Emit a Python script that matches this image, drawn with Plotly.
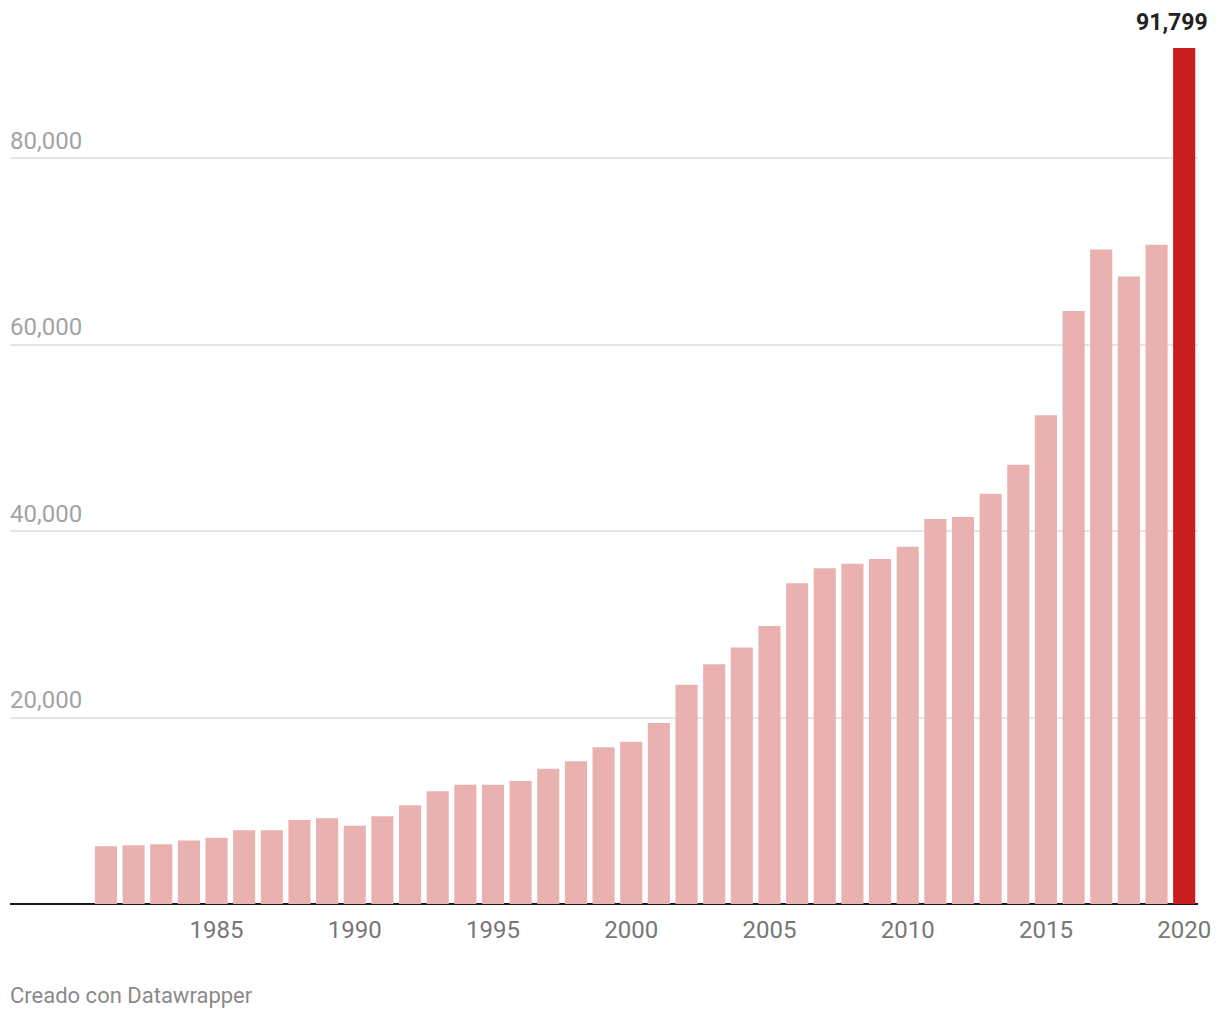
import plotly.graph_objects as go

years = list(range(1981, 2021))
values = [6200, 6300, 6400, 6800, 7100, 7900, 7900, 9000, 9200, 8400,
          9400, 10600, 12100, 12800, 12800, 13200, 14500, 15300, 16800, 17400,
          19400, 23500, 25700, 27500, 29800, 34400, 36000, 36500, 37000, 38300,
          41300, 41500, 44000, 47100, 52400, 63600, 70200, 67300, 70700, 91799]
y_ticks = [20000, 40000, 60000, 80000]
y_tick_labels = ["20,000", "40,000", "60,000", "80,000"]
x_ticks = [1985, 1990, 1995, 2000, 2005, 2010, 2015, 2020]

colors = ["#eab1b1"] * (len(years) - 1) + ["#c91d1f"]

fig = go.Figure()
fig.add_trace(go.Bar(x=years, y=values, marker=dict(color=colors, line=dict(width=0)),
                     hoverinfo="x+y"))

fig.add_annotation(x=years[-1], y=values[-1], text="<b>91,799</b>", showarrow=False,
                   yanchor="bottom", xanchor="center", xshift=-12, yshift=10,
                   font=dict(family="Roboto", size=23, color="#222222"))
fig.add_annotation(x=0, xref="paper", y=-0.105, yref="paper", text="Creado con Datawrapper",
                   showarrow=False, xanchor="left", yanchor="middle", xshift=-2,
                   font=dict(family="Roboto", size=22, color="#8a8a8a"))

fig.update_layout(
    width=1204, height=1004,
    margin=dict(l=2, r=14, t=22, b=108),
    plot_bgcolor="white", paper_bgcolor="white",
    bargap=0.2, showlegend=False,
    font=dict(family="Roboto"),
    xaxis=dict(range=[1977.53, 2020.5], tickvals=x_ticks, showgrid=False,
               ticks="", showline=False, zeroline=False, ticklabelstandoff=9,
               tickfont=dict(size=24, color="#777777")),
    yaxis=dict(range=[0, 93727], tickvals=y_ticks, ticktext=y_tick_labels,
               ticklabelposition="inside top", showgrid=True, gridcolor="#e5e5e5",
               gridwidth=1.5, zeroline=True, zerolinecolor="#1a1a1a", zerolinewidth=2,
               showline=False, ticks="", ticklabelstandoff=-3, ticklabelshift=-1,
               tickfont=dict(size=24, color="#a3a3a3")),
)

fig.write_html("out.html")
